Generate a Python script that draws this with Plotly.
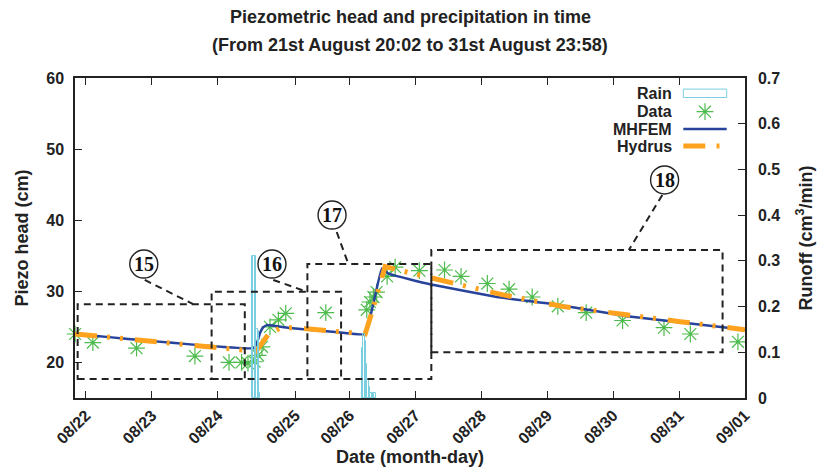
import plotly.graph_objects as go

YEAR = "2015"


def ts(s):
    """Month-day time string -> full timestamp string."""
    return f"{YEAR}-{s}"


# ---- measured piezometric head (cm) ----
data_times = [
    "08-21 20:02", "08-22 02:30", "08-22 18:25", "08-23 15:40", "08-24 04:05",
    "08-24 08:40", "08-24 11:00", "08-24 13:25", "08-24 14:40", "08-24 16:05",
    "08-24 19:00", "08-24 22:05", "08-25 00:45", "08-25 15:20", "08-26 06:15",
    "08-26 07:25", "08-26 08:40", "08-26 09:50", "08-26 13:40", "08-26 16:35",
    "08-27 01:25", "08-27 10:35", "08-27 16:35", "08-28 02:10", "08-28 10:05",
    "08-28 18:30", "08-29 03:50", "08-29 14:10", "08-30 03:25", "08-30 18:30",
    "08-31 04:05", "08-31 21:25",
]
data_head = [
    24.0, 22.8, 22.0, 20.9, 20.0,
    20.0, 19.9, 20.1, 21.0, 22.2,
    25.0, 26.0, 26.9, 27.0, 27.4,
    28.5, 29.2, 29.9, 32.1, 33.4,
    32.9, 33.0, 32.1, 31.1, 30.3,
    29.2, 27.9, 27.0, 25.9, 24.9,
    24.0, 22.9,
]

# ---- MHFEM simulation ----
mhfem_times = [
    "08-21 20:02", "08-24 12:55", "08-24 14:15", "08-24 15:20", "08-24 16:25",
    "08-24 17:50", "08-25 02:18", "08-25 20:00", "08-26 05:40", "08-26 11:45",
    "08-26 14:10", "08-27 05:20", "08-28 05:40", "08-29 04:50", "08-30 05:05",
    "08-31 23:58",
]
mhfem_head = [
    24.0, 22.0, 22.7, 24.1, 24.9,
    25.25, 24.85, 24.25, 24.0, 33.2,
    32.5, 31.0, 29.2, 28.05, 26.5,
    24.6,
]

# ---- Hydrus simulation ----
hydrus_times = [
    "08-21 20:02", "08-24 13:55", "08-24 18:25", "08-24 22:35", "08-25 03:30",
    "08-26 00:10", "08-26 05:40", "08-26 08:05", "08-26 12:55", "08-26 17:40",
    "08-26 22:05", "08-27 10:30", "08-28 07:55", "08-29 05:55", "08-30 02:40",
    "08-31 01:10", "08-31 23:58",
]
hydrus_head = [
    24.0, 21.55, 23.95, 24.8, 24.9,
    24.3, 24.0, 27.0, 33.5, 33.0,
    32.6, 31.45, 29.5, 27.85, 26.9,
    25.7, 24.6,
]

# ---- runoff (cm3/min), 30-minute bins ----
rain_times = [
    "08-24 12:45", "08-24 13:15", "08-24 13:45", "08-24 14:15", "08-24 14:45",
    "08-24 15:15",
    "08-26 04:45", "08-26 05:15", "08-26 05:45", "08-26 06:15", "08-26 06:45",
    "08-26 07:15", "08-26 07:45", "08-26 08:15", "08-26 08:45", "08-26 09:15",
]
rain_values = [
    0.31, 0.31, 0.31, 0.15, 0.147,
    0.01,
    0.109, 0.14, 0.125, 0.075, 0.04,
    0.024, 0.01, 0.01, 0.01, 0.01,
]
RAIN_BIN_MS = 30 * 60 * 1000

# ---- axes ----
x_range = ["08-21 20:00", "09-01 00:00"]
tick_times = [
    "08-22 00:00", "08-23 00:00", "08-24 00:00", "08-25 04:15", "08-26 00:00",
    "08-27 00:00", "08-28 00:00", "08-29 00:00", "08-30 00:00", "08-31 00:00",
    "09-01 00:00",
]
tick_labels = ["08/22", "08/23", "08/24", "08/25", "08/26", "08/27",
               "08/28", "08/29", "08/30", "08/31", "09/01"]
head_range = [15, 60]
head_ticks = [20, 30, 40, 50, 60]
runoff_range = [0, 0.7]
runoff_ticks = [0, 0.1, 0.2, 0.3, 0.4, 0.5, 0.6, 0.7]

# ---- event windows (dashed boxes) and their circled labels ----
event_names = ["15", "16", "17", "18"]
event_x0 = ["08-21 20:58", "08-23 21:45", "08-25 08:38", "08-27 05:46"]
event_x1 = ["08-24 09:50", "08-25 20:54", "08-27 05:46", "08-31 15:50"]
event_y0 = [17.67, 17.67, 17.67, 21.43]
event_y1 = [28.2, 29.95, 33.84, 35.8]
label_x = ["08-22 21:03", "08-24 19:44", "08-25 17:37", "08-30 18:43"]
label_y = [33.84, 33.84, 40.73, 45.66]
leader_x0 = ["08-22 21:24", "08-24 20:13", "08-25 19:19", "08-30 17:53"]
leader_y0 = [31.6, 31.6, 38.34, 43.55]
leader_x1 = ["08-23 15:02", "08-25 08:24", "08-25 23:33", "08-30 05:41"]
leader_y1 = [28.2, 29.95, 33.84, 35.8]

# ---- styling ----
FONT = "Liberation Sans, Arial, Helvetica, sans-serif"
SERIF = "Liberation Serif, Times New Roman, serif"
INK = "#222222"
C_RAIN = "#79cfe0"
C_DATA = "#4dbb4d"
C_MHFEM = "#27439b"
C_HYDRUS = "#ffa31f"
HYDRUS_DASH = "22px,10px,3px,10px,3px,12px"
BOX_DASH = "7px,5px"

fig = go.Figure()

fig.add_trace(go.Bar(
    x=[ts(t) for t in rain_times], y=rain_values, yaxis="y2",
    width=RAIN_BIN_MS, name="Rain",
    marker=dict(color="rgba(255,255,255,0)", line=dict(color=C_RAIN, width=1)),
))
fig.add_trace(go.Scatter(
    x=[ts(t) for t in data_times], y=data_head, mode="markers", name="Data",
    marker=dict(symbol="asterisk-open", size=14, color=C_DATA,
                line=dict(color=C_DATA, width=1.2)),
    cliponaxis=False,
))
fig.add_trace(go.Scatter(
    x=[ts(t) for t in mhfem_times], y=mhfem_head, mode="lines", name="MHFEM",
    line=dict(color=C_MHFEM, width=2.5, shape="spline", smoothing=0.3),
))
fig.add_trace(go.Scatter(
    x=[ts(t) for t in hydrus_times], y=hydrus_head, mode="lines", name="Hydrus",
    line=dict(color=C_HYDRUS, width=5, dash=HYDRUS_DASH),
))

# legend key in the gnuplot style: right-aligned text, sample to the right
L, R, T, B = 75, 745, 78, 398


def px(xp):
    return (xp - L) / (R - L)


def py(yp):
    return (B - yp) / (B - T)


key_rows = [93.3, 111.7, 129.0, 146.0]
key_text = ["Rain", "Data", "MHFEM", "Hydrus"]
key_x0, key_x1 = px(683.3), px(726.7)

fig.add_trace(go.Scatter(
    x=[px(705)], y=[py(key_rows[1])], xaxis="x3", yaxis="y3",
    mode="markers", showlegend=False, hoverinfo="skip",
    marker=dict(symbol="asterisk-open", size=14, color=C_DATA,
                line=dict(color=C_DATA, width=1.2)),
))

shapes = []
shapes.append(dict(type="rect", xref="paper", yref="paper",
                   x0=key_x0, x1=key_x1, y0=py(key_rows[0] + 4.2), y1=py(key_rows[0] - 4.2),
                   line=dict(color=C_RAIN, width=1), fillcolor="rgba(0,0,0,0)"))
shapes.append(dict(type="line", xref="paper", yref="paper",
                   x0=key_x0, x1=key_x1, y0=py(key_rows[2]), y1=py(key_rows[2]),
                   line=dict(color=C_MHFEM, width=2.5)))
shapes.append(dict(type="line", xref="paper", yref="paper",
                   x0=key_x0, x1=px(705.3), y0=py(key_rows[3]), y1=py(key_rows[3]),
                   line=dict(color=C_HYDRUS, width=5)))
shapes.append(dict(type="line", xref="paper", yref="paper",
                   x0=px(716.5), x1=px(719.5), y0=py(key_rows[3]), y1=py(key_rows[3]),
                   line=dict(color=C_HYDRUS, width=5)))

annotations = []
for row, txt in zip(key_rows, key_text):
    annotations.append(dict(
        xref="paper", yref="paper", x=px(673.5), y=py(row), text=txt,
        showarrow=False, xanchor="right", yanchor="middle",
        font=dict(family=FONT, size=16, color=INK, weight="bold"),
    ))

# event boxes, leaders and circled numbers
for i, name in enumerate(event_names):
    shapes.append(dict(type="rect", xref="x", yref="y",
                       x0=ts(event_x0[i]), x1=ts(event_x1[i]),
                       y0=event_y0[i], y1=event_y1[i],
                       line=dict(color=INK, width=2, dash=BOX_DASH),
                       fillcolor="rgba(0,0,0,0)", layer="above"))
    shapes.append(dict(type="line", xref="x", yref="y",
                       x0=ts(leader_x0[i]), x1=ts(leader_x1[i]),
                       y0=leader_y0[i], y1=leader_y1[i],
                       line=dict(color=INK, width=2, dash=BOX_DASH)))
    shapes.append(dict(type="circle", xref="x", yref="y",
                       xsizemode="pixel", ysizemode="pixel",
                       xanchor=ts(label_x[i]), yanchor=label_y[i],
                       x0=-14, x1=14, y0=-14, y1=14,
                       line=dict(color=INK, width=1.4), fillcolor="white"))
    annotations.append(dict(
        xref="x", yref="y", x=ts(label_x[i]), y=label_y[i], text=name,
        showarrow=False, xanchor="center", yanchor="middle",
        font=dict(family=SERIF, size=20, color="#111111", weight="bold"),
    ))

# second title line
annotations.append(dict(
    xref="paper", yref="paper", x=0.5, y=py(45),
    text="(From 21st August 20:02 to 31st August 23:58)", showarrow=False,
    xanchor="center", yanchor="middle",
    font=dict(family=FONT, size=18, color=INK, weight="bold"),
))

axis_font = dict(family=FONT, size=16, color=INK, weight="bold")
title_font = dict(family=FONT, size=18, color=INK, weight="bold")

fig.update_layout(
    width=821, height=470,
    margin=dict(l=L, r=821 - R, t=T, b=470 - B, autoexpand=False),
    paper_bgcolor="white", plot_bgcolor="white",
    showlegend=False,
    bargap=0,
    title=dict(text="Piezometric head and precipitation in time",
               x=0.5, xanchor="center", y=1 - 17 / 470, yanchor="middle",
               font=dict(family=FONT, size=18, color=INK, weight="bold")),
    xaxis=dict(
        type="date", range=[ts(x_range[0]), ts(x_range[1])],
        tickmode="array", tickvals=[ts(t) for t in tick_times], ticktext=tick_labels,
        tickangle=-45, tickfont=axis_font,
        ticks="inside", ticklen=7, tickwidth=1.2, tickcolor=INK,
        showline=True, linecolor=INK, linewidth=1.5, mirror="ticks",
        showgrid=False, zeroline=False,
        title=dict(text="Date (month-day)", font=title_font, standoff=4),
        automargin=False,
    ),
    yaxis=dict(
        range=head_range, tickmode="array", tickvals=head_ticks,
        tickfont=axis_font, ticks="inside", ticklen=7, tickwidth=1.2, tickcolor=INK,
        ticklabelstandoff=6,
        showline=True, linecolor=INK, linewidth=1.5, mirror=True,
        showgrid=False, zeroline=False,
        title=dict(text="Piezo head (cm)", font=title_font, standoff=13),
        automargin=False,
    ),
    yaxis2=dict(
        range=runoff_range, tickmode="array", tickvals=runoff_ticks,
        ticktext=[f"{v:g}" for v in runoff_ticks],
        overlaying="y", side="right",
        tickfont=axis_font, ticks="inside", ticklen=7, tickwidth=1.2, tickcolor=INK,
        ticklabelstandoff=8,
        showline=True, linecolor=INK, linewidth=1.5,
        showgrid=False, zeroline=False,
        title=dict(text="Runoff (cm<sup>3</sup>/min)", font=title_font, standoff=20),
        automargin=False,
    ),
    xaxis3=dict(overlaying="x", range=[0, 1], visible=False, fixedrange=True),
    yaxis3=dict(overlaying="y", range=[0, 1], visible=False, fixedrange=True),
    shapes=shapes,
    annotations=annotations,
)

fig.write_html("out.html")
